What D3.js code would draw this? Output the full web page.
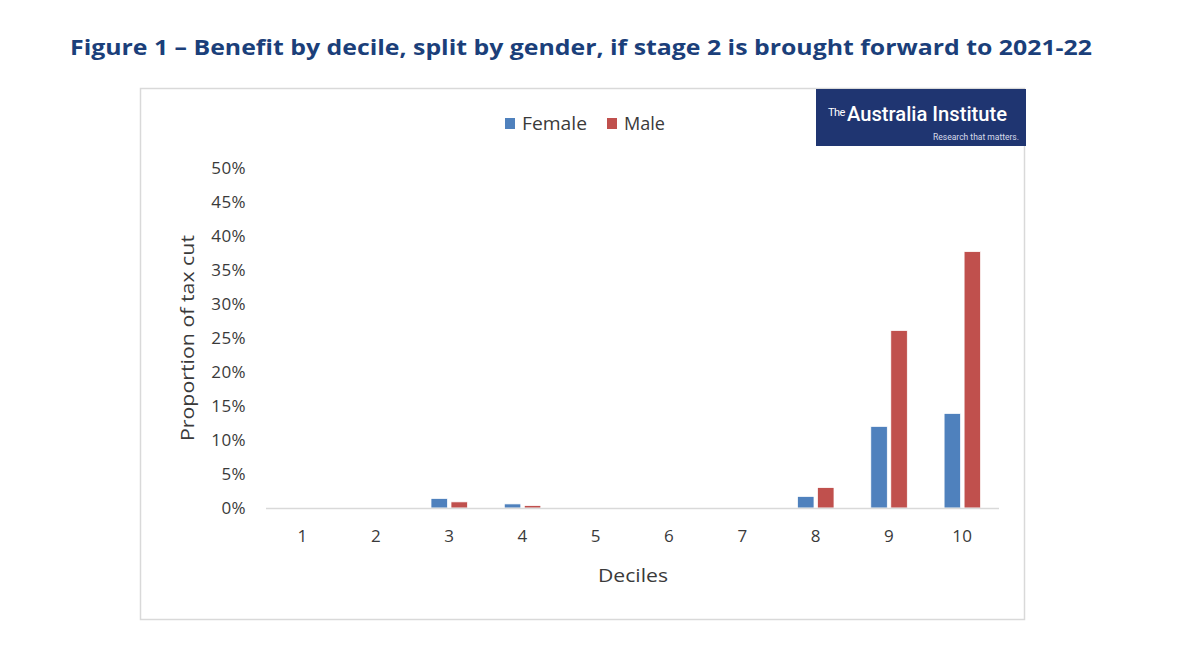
<!DOCTYPE html>
<html>
<head>
<meta charset="utf-8">
<script src="https://cdn.jsdelivr.net/npm/d3@7"></script>
<style>
  html, body { margin: 0; padding: 0; background: #fff; }
  svg { display: block; }
</style>
</head>
<body>
<svg id="chart" width="1200" height="647"></svg>
<script>
const deciles = ["1", "2", "3", "4", "5", "6", "7", "8", "9", "10"];
const female = [0, 0, 1.4, 0.6, 0, 0, 0, 1.7, 12.0, 13.9];
const male = [0, 0, 0.9, 0.35, 0, 0, 0, 3.0, 26.1, 37.7];
const seriesNames = ["Female", "Male"];
const seriesColors = ["#4F81BD", "#C0504D"];
const yTicks = [0, 5, 10, 15, 20, 25, 30, 35, 40, 45, 50];
const titleText = "Figure 1 \u2013 Benefit by decile, split by gender, if stage 2 is brought forward to 2021-22";

const svg = d3.select("#chart");
const font = "'Open Sans', 'DejaVu Sans', sans-serif";
const textCol = "#3a3a3a";

// Title
svg.append("text")
  .attr("x", 70).attr("y", 55)
  .attr("font-family", font)
  .attr("font-weight", 700)
  .attr("font-size", 21.5)
  .attr("fill", "#1B3F7A")
  .attr("textLength", 1022)
  .attr("lengthAdjust", "spacingAndGlyphs")
  .text(titleText);

// Chart border
svg.append("rect")
  .attr("x", 140.5).attr("y", 88.5)
  .attr("width", 884).attr("height", 531)
  .attr("fill", "#fff")
  .attr("stroke", "#d9d9d9").attr("stroke-width", 1.5);

// Scales
const x0 = d3.scaleBand().domain(deciles).range([266, 999]);
const x1 = d3.scaleBand().domain(seriesNames).range([0, x0.bandwidth()]).paddingInner(0.175).paddingOuter(0.92);
const y = d3.scaleLinear().domain([0, 50]).range([508, 168]);

// Y tick labels
svg.append("g")
  .selectAll("text").data(yTicks).join("text")
  .attr("x", 246).attr("y", d => y(d))
  .attr("dy", "0.36em")
  .attr("text-anchor", "end")
  .attr("font-family", font)
  .attr("font-size", 17)
  .attr("letter-spacing", 0.4)
  .attr("fill", textCol)
  .text(d => d + "%");

// Bars
const data = deciles.map((d, i) => ({ decile: d, values: [female[i], male[i]] }));
const groups = svg.append("g").selectAll("g").data(data).join("g")
  .attr("transform", d => `translate(${x0(d.decile)},0)`);
groups.selectAll("rect")
  .data(d => d.values.map((v, j) => ({ v, j })))
  .join("rect")
  .attr("x", d => x1(seriesNames[d.j]))
  .attr("width", x1.bandwidth())
  .attr("y", d => y(d.v))
  .attr("height", d => y(0) - y(d.v))
  .attr("fill", d => seriesColors[d.j])
  .attr("stroke", d => d.v > 0 ? "#fff" : "none")
  .attr("stroke-width", 0.75);

// X axis line
svg.append("line")
  .attr("x1", 266).attr("x2", 999)
  .attr("y1", y(0) + 0.5).attr("y2", y(0) + 0.5)
  .attr("stroke", "#d9d9d9").attr("stroke-width", 1.5);

// X tick labels
svg.append("g")
  .selectAll("text").data(deciles).join("text")
  .attr("x", d => x0(d) + x0.bandwidth() / 2)
  .attr("y", 536)
  .attr("dy", "0.36em")
  .attr("text-anchor", "middle")
  .attr("font-family", font)
  .attr("font-size", 17)
  .attr("letter-spacing", 0.4)
  .attr("fill", textCol)
  .text(d => d);

// Axis titles
svg.append("text")
  .attr("x", 633).attr("y", 575)
  .attr("dy", "0.36em")
  .attr("text-anchor", "middle")
  .attr("font-family", font)
  .attr("font-size", 19)
  .attr("textLength", 70)
  .attr("lengthAdjust", "spacingAndGlyphs")
  .attr("fill", textCol)
  .text("Deciles");

svg.append("text")
  .attr("transform", "translate(187,338) rotate(-90)")
  .attr("dy", "0.36em")
  .attr("text-anchor", "middle")
  .attr("font-family", font)
  .attr("font-size", 18.5)
  .attr("textLength", 206)
  .attr("lengthAdjust", "spacingAndGlyphs")
  .attr("fill", textCol)
  .text("Proportion of tax cut");

// Legend
const legend = svg.append("g");
const legendX = [505, 607];
const legendW = [65, 41];
seriesNames.forEach((name, i) => {
  legend.append("rect")
    .attr("x", legendX[i]).attr("y", 118)
    .attr("width", 10).attr("height", 11)
    .attr("fill", seriesColors[i]);
  legend.append("text")
    .attr("x", legendX[i] + 17).attr("y", 123)
    .attr("dy", "0.36em")
    .attr("font-family", font)
    .attr("font-size", 18.5)
    .attr("textLength", legendW[i])
    .attr("lengthAdjust", "spacingAndGlyphs")
    .attr("fill", textCol)
    .text(name);
});

// Logo
const logo = svg.append("g");
logo.append("rect")
  .attr("x", 816).attr("y", 89)
  .attr("width", 210).attr("height", 57)
  .attr("fill", "#1F3571");
logo.append("text")
  .attr("x", 828).attr("y", 116)
  .attr("font-family", "'Liberation Sans Narrow', 'Roboto', sans-serif")
  .attr("font-size", 11)
  .attr("letter-spacing", -0.6)
  .attr("fill", "#fff")
  .text("The");
logo.append("text")
  .attr("x", 847).attr("y", 121)
  .attr("font-family", "'Roboto', 'Liberation Sans Narrow', sans-serif")
  .attr("font-weight", 500)
  .attr("font-size", 21)
  .attr("fill", "#fff")
  .attr("textLength", 160)
  .attr("lengthAdjust", "spacingAndGlyphs")
  .text("Australia Institute");
logo.append("text")
  .attr("x", 1019).attr("y", 140)
  .attr("text-anchor", "end")
  .attr("font-family", "'Liberation Sans Narrow', 'Roboto', sans-serif")
  .attr("font-size", 8.5)
  .attr("fill", "#d8dcea")
  .text("Research that matters.");
</script>
</body>
</html>
